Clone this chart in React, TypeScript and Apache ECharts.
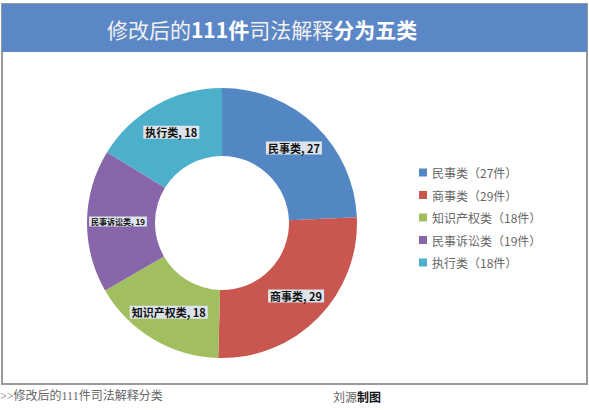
import React, { useEffect, useRef } from "react";
import * as echarts from "echarts";

const categories = ["民事类", "商事类", "知识产权类", "民事诉讼类", "执行类"];
const counts = [27, 29, 18, 19, 18];
const colors = ["#5387C4", "#C9574F", "#A2BF60", "#8866AA", "#4DB0CA"];
const titleParts = ["修改后的", "111件", "司法解释", "分为五类"];
const footLeft = ">>修改后的111件司法解释分类";
const footAuthor = ["刘源", "制图"];

export default function App() {
  const ref = useRef<HTMLDivElement>(null);
  useEffect(() => {
    if (!ref.current) return;
    const chart = echarts.init(ref.current, null, { renderer: "svg" });
    const cjk = "'Noto Sans CJK SC', 'Noto Sans', sans-serif";
    chart.setOption({
      animation: false,
      backgroundColor: "#ffffff",
      color: colors,
      legend: {
        orient: "vertical",
        left: 414,
        top: 161,
        icon: "rect",
        itemWidth: 8,
        itemHeight: 8,
        itemGap: 9.5,
        selectedMode: false,
        data: categories,
        formatter: (name: string) => {
          const i = categories.indexOf(name);
          return `${name}（${counts[i]}件）`;
        },
        textStyle: { fontSize: 12, color: "#666666", fontFamily: cjk, lineHeight: 13 },
      },
      graphic: [
        {
          type: "rect",
          shape: { x: 2, y: 4, width: 585, height: 380 },
          style: { fill: "#ffffff", stroke: "#9a9a9a", lineWidth: 2 },
          z: -10,
        },
        {
          type: "rect",
          shape: { x: 2, y: 4, width: 585, height: 48 },
          style: { fill: "#5B87C6" },
          z: -9,
        },
        {
          type: "text",
          x: 107,
          y: 29,
          style: {
            text: `{n|${titleParts[0]}}{b|${titleParts[1]}}{n|${titleParts[2]}}{b|${titleParts[3]}}`,
            verticalAlign: "middle",
            rich: {
              n: { fontSize: 21, fill: "#f0f0f0", fontFamily: cjk },
              b: { fontSize: 21, fill: "#ffffff", fontWeight: "bold", fontFamily: cjk },
            },
          },
        },
        {
          type: "text",
          x: 0,
          y: 396,
          style: {
            text: footLeft,
            fontSize: 12,
            fill: "#666666",
            fontFamily: "'Liberation Serif', 'Noto Sans CJK SC', serif",
            verticalAlign: "middle",
          },
        },
        {
          type: "text",
          x: 333,
          y: 396,
          style: {
            text: `{n|${footAuthor[0]}}{b|${footAuthor[1]}}`,
            verticalAlign: "middle",
            rich: {
              n: { fontSize: 12, fill: "#666666", fontFamily: cjk },
              b: { fontSize: 12, fill: "#111111", fontWeight: "bold", fontFamily: cjk },
            },
          },
        },
      ],
      series: [
        {
          type: "pie",
          center: [222, 223],
          radius: [67, 135],
          startAngle: 90,
          clockwise: true,
          silent: true,
          labelLine: { show: false },
          label: {
            show: true,
            position: "inside",
            formatter: "{b}, {c}",
            fontSize: 11,
            fontWeight: "bold",
            color: "#111111",
            fontFamily: cjk,
            backgroundColor: "#dde3ea",
            padding: [1, 2],
          },
          data: categories.map((name, i) => ({
            name,
            value: counts[i],
            label: i === 3 ? { fontSize: 8 } : undefined,
          })),
        },
      ],
    });
    return () => chart.dispose();
  }, []);
  return (
    <div
      ref={ref}
      style={{ position: "fixed", left: 0, top: 0, width: 589, height: 410, background: "#fff" }}
    />
  );
}
